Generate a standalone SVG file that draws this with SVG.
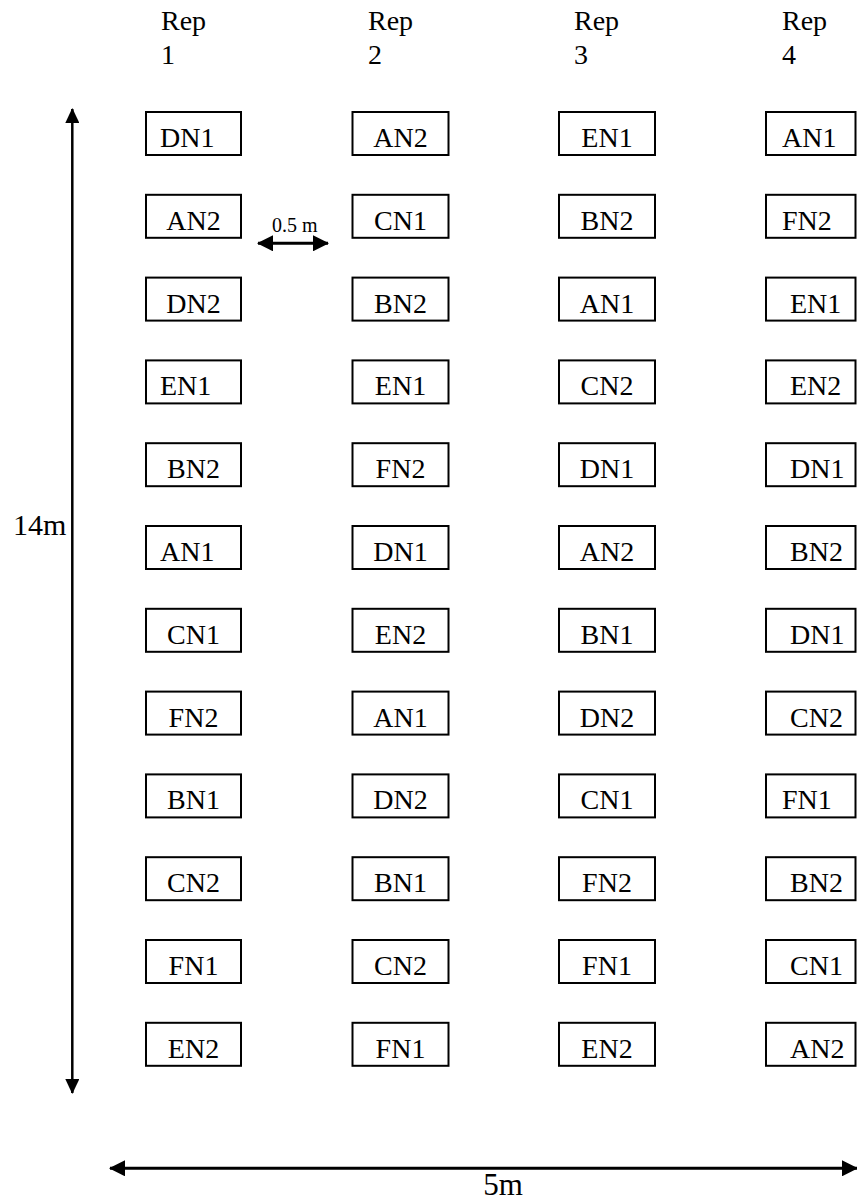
<svg xmlns="http://www.w3.org/2000/svg" width="857" height="1201" viewBox="0 0 857 1201">
<style>
.box{fill:#fff;stroke:#000;stroke-width:2}
.t{font-family:'Liberation Serif','Times New Roman',Times,'DejaVu Serif',serif;font-size:28px;fill:#000}
.m{text-anchor:middle}
.ln{stroke:#000;fill:none}
</style>
<defs>
<marker id="ah" viewBox="0 0 16 16" refX="15" refY="8" markerWidth="16" markerHeight="16" markerUnits="userSpaceOnUse" orient="auto-start-reverse"><path d="M0,0 L16,8 L0,16 Z" fill="#000"/></marker>
<marker id="ahv" viewBox="0 0 15 14" refX="14" refY="7" markerWidth="15" markerHeight="14" markerUnits="userSpaceOnUse" orient="auto-start-reverse"><path d="M0,0 L15,7 L0,14 Z" fill="#000"/></marker>
</defs>
<g id="headers" class="t" font-family="'Liberation Serif', 'Times New Roman', serif">
<text x="161" y="30">Rep</text><text x="161" y="64">1</text>
<text x="368" y="30">Rep</text><text x="368" y="64">2</text>
<text x="574" y="30">Rep</text><text x="574" y="64">3</text>
<text x="782" y="30">Rep</text><text x="782" y="64">4</text>
</g>
<g id="connectors">
<line class="ln" x1="72.3" y1="109" x2="72.3" y2="1093" stroke-width="2.5" marker-start="url(#ahv)" marker-end="url(#ahv)"/>
<line class="ln" x1="110" y1="1168.3" x2="857" y2="1168.3" stroke-width="3" marker-start="url(#ah)" marker-end="url(#ah)"/>
<line class="ln" x1="258" y1="243.3" x2="328" y2="243.3" stroke-width="3" marker-start="url(#ah)" marker-end="url(#ah)"/>
</g>
<g id="dim-labels" class="t" font-family="'Liberation Serif', 'Times New Roman', serif">
<text x="13" y="535" font-size="30">14m</text>
<text x="503" y="1195" class="m" font-size="31">5m</text>
<text x="272" y="231.5" font-size="20">0.5 m</text>
</g>
<g id="rep1" font-family="'Liberation Serif', 'Times New Roman', serif">
<g id="r1-1"><rect class="box" x="146" y="112" width="95" height="43"/><text class="t" x="160" y="147">DN1</text></g>
<g id="r1-2"><rect class="box" x="146" y="194.8" width="95" height="43"/><text class="t m" x="193.5" y="229.8">AN2</text></g>
<g id="r1-3"><rect class="box" x="146" y="277.6" width="95" height="43"/><text class="t m" x="193.5" y="312.6">DN2</text></g>
<g id="r1-4"><rect class="box" x="146" y="360.4" width="95" height="43"/><text class="t" x="160" y="395.4">EN1</text></g>
<g id="r1-5"><rect class="box" x="146" y="443.2" width="95" height="43"/><text class="t m" x="193.5" y="478.2">BN2</text></g>
<g id="r1-6"><rect class="box" x="146" y="526" width="95" height="43"/><text class="t" x="160" y="561">AN1</text></g>
<g id="r1-7"><rect class="box" x="146" y="608.8" width="95" height="43"/><text class="t m" x="193.5" y="643.8">CN1</text></g>
<g id="r1-8"><rect class="box" x="146" y="691.6" width="95" height="43"/><text class="t m" x="193.5" y="726.6">FN2</text></g>
<g id="r1-9"><rect class="box" x="146" y="774.4" width="95" height="43"/><text class="t m" x="193.5" y="809.4">BN1</text></g>
<g id="r1-10"><rect class="box" x="146" y="857.2" width="95" height="43"/><text class="t m" x="193.5" y="892.2">CN2</text></g>
<g id="r1-11"><rect class="box" x="146" y="940" width="95" height="43"/><text class="t m" x="193.5" y="975">FN1</text></g>
<g id="r1-12"><rect class="box" x="146" y="1022.8" width="95" height="43"/><text class="t m" x="193.5" y="1057.8">EN2</text></g>
</g>
<g id="rep2">
<g id="r2-1"><rect class="box" x="352.5" y="112" width="96" height="43"/><text class="t m" x="400.5" y="147">AN2</text></g>
<g id="r2-2"><rect class="box" x="352.5" y="194.8" width="96" height="43"/><text class="t m" x="400.5" y="229.8">CN1</text></g>
<g id="r2-3"><rect class="box" x="352.5" y="277.6" width="96" height="43"/><text class="t m" x="400.5" y="312.6">BN2</text></g>
<g id="r2-4"><rect class="box" x="352.5" y="360.4" width="96" height="43"/><text class="t m" x="400.5" y="395.4">EN1</text></g>
<g id="r2-5"><rect class="box" x="352.5" y="443.2" width="96" height="43"/><text class="t m" x="400.5" y="478.2">FN2</text></g>
<g id="r2-6"><rect class="box" x="352.5" y="526" width="96" height="43"/><text class="t m" x="400.5" y="561">DN1</text></g>
<g id="r2-7"><rect class="box" x="352.5" y="608.8" width="96" height="43"/><text class="t m" x="400.5" y="643.8">EN2</text></g>
<g id="r2-8"><rect class="box" x="352.5" y="691.6" width="96" height="43"/><text class="t m" x="400.5" y="726.6">AN1</text></g>
<g id="r2-9"><rect class="box" x="352.5" y="774.4" width="96" height="43"/><text class="t m" x="400.5" y="809.4">DN2</text></g>
<g id="r2-10"><rect class="box" x="352.5" y="857.2" width="96" height="43"/><text class="t m" x="400.5" y="892.2">BN1</text></g>
<g id="r2-11"><rect class="box" x="352.5" y="940" width="96" height="43"/><text class="t m" x="400.5" y="975">CN2</text></g>
<g id="r2-12"><rect class="box" x="352.5" y="1022.8" width="96" height="43"/><text class="t m" x="400.5" y="1057.8">FN1</text></g>
</g>
<g id="rep3">
<g id="r3-1"><rect class="box" x="559" y="112" width="96" height="43"/><text class="t m" x="607" y="147">EN1</text></g>
<g id="r3-2"><rect class="box" x="559" y="194.8" width="96" height="43"/><text class="t m" x="607" y="229.8">BN2</text></g>
<g id="r3-3"><rect class="box" x="559" y="277.6" width="96" height="43"/><text class="t m" x="607" y="312.6">AN1</text></g>
<g id="r3-4"><rect class="box" x="559" y="360.4" width="96" height="43"/><text class="t m" x="607" y="395.4">CN2</text></g>
<g id="r3-5"><rect class="box" x="559" y="443.2" width="96" height="43"/><text class="t m" x="607" y="478.2">DN1</text></g>
<g id="r3-6"><rect class="box" x="559" y="526" width="96" height="43"/><text class="t m" x="607" y="561">AN2</text></g>
<g id="r3-7"><rect class="box" x="559" y="608.8" width="96" height="43"/><text class="t m" x="607" y="643.8">BN1</text></g>
<g id="r3-8"><rect class="box" x="559" y="691.6" width="96" height="43"/><text class="t m" x="607" y="726.6">DN2</text></g>
<g id="r3-9"><rect class="box" x="559" y="774.4" width="96" height="43"/><text class="t m" x="607" y="809.4">CN1</text></g>
<g id="r3-10"><rect class="box" x="559" y="857.2" width="96" height="43"/><text class="t m" x="607" y="892.2">FN2</text></g>
<g id="r3-11"><rect class="box" x="559" y="940" width="96" height="43"/><text class="t m" x="607" y="975">FN1</text></g>
<g id="r3-12"><rect class="box" x="559" y="1022.8" width="96" height="43"/><text class="t m" x="607" y="1057.8">EN2</text></g>
</g>
<g id="rep4">
<g id="r4-1"><rect class="box" x="766" y="112" width="89.5" height="43"/><text class="t" x="782" y="147">AN1</text></g>
<g id="r4-2"><rect class="box" x="766" y="194.8" width="89.5" height="43"/><text class="t" x="782" y="229.8">FN2</text></g>
<g id="r4-3"><rect class="box" x="766" y="277.6" width="89.5" height="43"/><text class="t" x="790" y="312.6">EN1</text></g>
<g id="r4-4"><rect class="box" x="766" y="360.4" width="89.5" height="43"/><text class="t" x="790" y="395.4">EN2</text></g>
<g id="r4-5"><rect class="box" x="766" y="443.2" width="89.5" height="43"/><text class="t" x="790" y="478.2">DN1</text></g>
<g id="r4-6"><rect class="box" x="766" y="526" width="89.5" height="43"/><text class="t" x="790" y="561">BN2</text></g>
<g id="r4-7"><rect class="box" x="766" y="608.8" width="89.5" height="43"/><text class="t" x="790" y="643.8">DN1</text></g>
<g id="r4-8"><rect class="box" x="766" y="691.6" width="89.5" height="43"/><text class="t" x="790" y="726.6">CN2</text></g>
<g id="r4-9"><rect class="box" x="766" y="774.4" width="89.5" height="43"/><text class="t" x="782" y="809.4">FN1</text></g>
<g id="r4-10"><rect class="box" x="766" y="857.2" width="89.5" height="43"/><text class="t" x="790" y="892.2">BN2</text></g>
<g id="r4-11"><rect class="box" x="766" y="940" width="89.5" height="43"/><text class="t" x="790" y="975">CN1</text></g>
<g id="r4-12"><rect class="box" x="766" y="1022.8" width="89.5" height="43"/><text class="t" x="790" y="1057.8">AN2</text></g>
</g>
</svg>
